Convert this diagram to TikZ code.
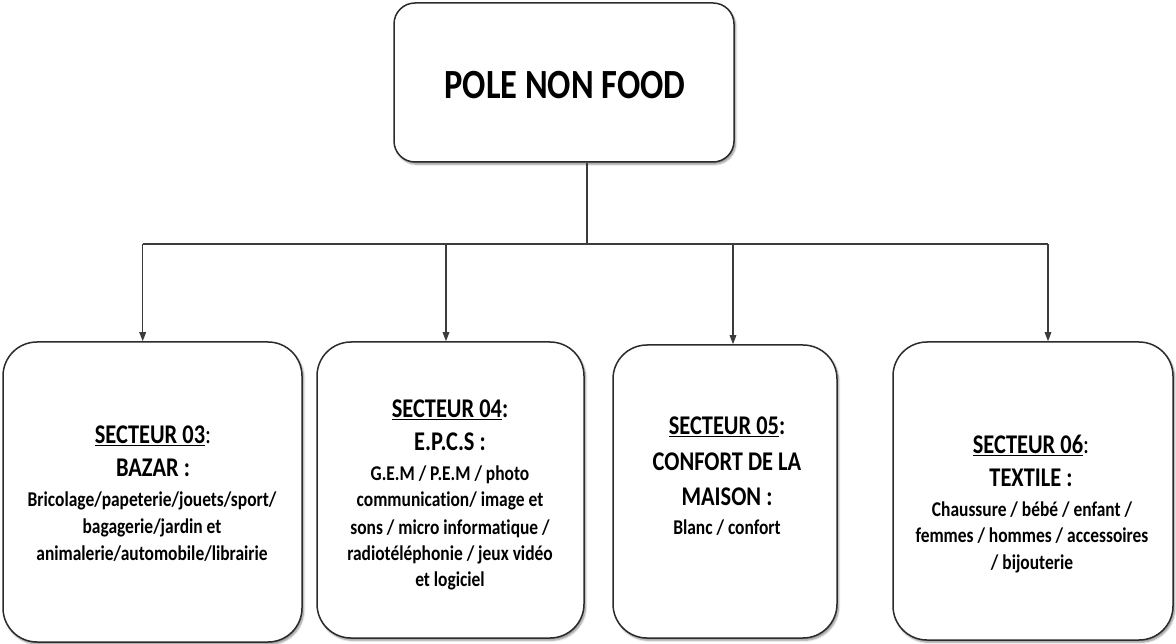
\documentclass[tikz,border=0pt]{standalone}
\usepackage{fontspec}
\setmainfont[FakeStretch=0.83,Ligatures=NoCommon]{Carlito}
\usetikzlibrary{arrows.meta,shadows.blur}

\definecolor{boxline}{HTML}{2B2B2B}
\definecolor{connline}{HTML}{3C3C3C}

\tikzset{
  panel/.style={draw=boxline, line width=1.5pt, fill=white, inner sep=0pt,
    rounded corners=34pt,
    blur shadow={shadow xshift=1.6pt, shadow yshift=-2.2pt,
      shadow blur steps=6, shadow opacity=45}},
  toppanel/.style={panel, rounded corners=21pt},
  titletext/.style={anchor=base, inner sep=0pt,
    font=\fontsize{41.5}{48}\selectfont\bfseries},
  headtext/.style={anchor=base, inner sep=0pt,
    font=\fontsize{27}{32}\selectfont\bfseries},
  bodytext/.style={anchor=base, inner sep=0pt,
    font=\fontsize{21}{26}\selectfont\bfseries},
  conn/.style={draw=connline, line width=1.4pt},
  arrowconn/.style={conn, -{Triangle[length=9pt,width=6.5pt]}},
}

\begin{document}
\begin{tikzpicture}[x=1pt,y=-1pt]
\useasboundingbox (0,0) rectangle (1176,644);

% main box
\node[toppanel, minimum width=340pt, minimum height=159pt] (top) at (564,82.5) {};
\node[titletext] (title) at (565,98.3) {POLE NON FOOD};

% sector boxes
\node[panel, minimum width=299pt, minimum height=300pt] (s03) at (152.5,492) {};
\node[panel, minimum width=267pt, minimum height=296pt] (s04) at (450.5,490) {};
\node[panel, minimum width=224pt, minimum height=293pt] (s05) at (725,491.5) {};
\node[panel, minimum width=280pt, minimum height=298pt] (s06) at (1033,491) {};

% bus and branch points
\coordinate (bus) at (587,244);
\coordinate (j03) at (142.7,244);
\coordinate (j04) at (446,244);
\coordinate (j05) at (733,244);
\coordinate (j06) at (1048,244);

\draw[conn] (top.south -| bus) -- (bus);
\draw[conn] (j03) -- (j06);
\draw[arrowconn] (j03) -- (j03 |- s03.north);
\draw[arrowconn] (j04) -- (j04 |- s04.north);
\draw[arrowconn] (j05) -- (j05 |- s05.north);
\draw[arrowconn] (j06) -- (j06 |- s06.north);

% secteur 03
\node[headtext] (s03a) at (153,443.3) {\underline{SECTEUR 03}\mdseries:};
\node[headtext] (s03b) at (153,476.7) {BAZAR :};
\node[bodytext] (s03c) at (152,506.7) {Bricolage/papeterie/jouets/sport/};
\node[bodytext] (s03d) at (152,533.3) {bagagerie/jardin et};
\node[bodytext] (s03e) at (152,560) {animalerie/automobile/librairie};

% secteur 04
\node[headtext] (s04a) at (450,417.3) {\underline{SECTEUR 04}:};
\node[headtext] (s04b) at (450,450.7) {E.P.C.S :};
\node[bodytext] (s04c) at (450,480) {G.E.M / P.E.M / photo};
\node[bodytext] (s04d) at (450,506.7) {communication/ image et};
\node[bodytext] (s04e) at (450,534) {sons / micro informatique /};
\node[bodytext] (s04f) at (450,560) {radiotéléphonie / jeux vidéo};
\node[bodytext] (s04g) at (450,586.7) {et logiciel};

% secteur 05
\node[headtext] (s05a) at (727,435) {\underline{SECTEUR 05}:};
\node[headtext] (s05b) at (727,470) {CONFORT DE LA};
\node[headtext] (s05c) at (727,505.7) {MAISON :};
\node[bodytext] (s05d) at (727,534) {Blanc / confort};

% secteur 06
\node[headtext] (s06a) at (1031,453.3) {\underline{SECTEUR 06}\mdseries:};
\node[headtext] (s06b) at (1031,486.7) {TEXTILE :};
\node[bodytext] (s06c) at (1032,516) {Chaussure / bébé / enfant /};
\node[bodytext] (s06d) at (1032,542.7) {femmes / hommes / accessoires};
\node[bodytext] (s06e) at (1032,569) {/ bijouterie};
\end{tikzpicture}
\end{document}
